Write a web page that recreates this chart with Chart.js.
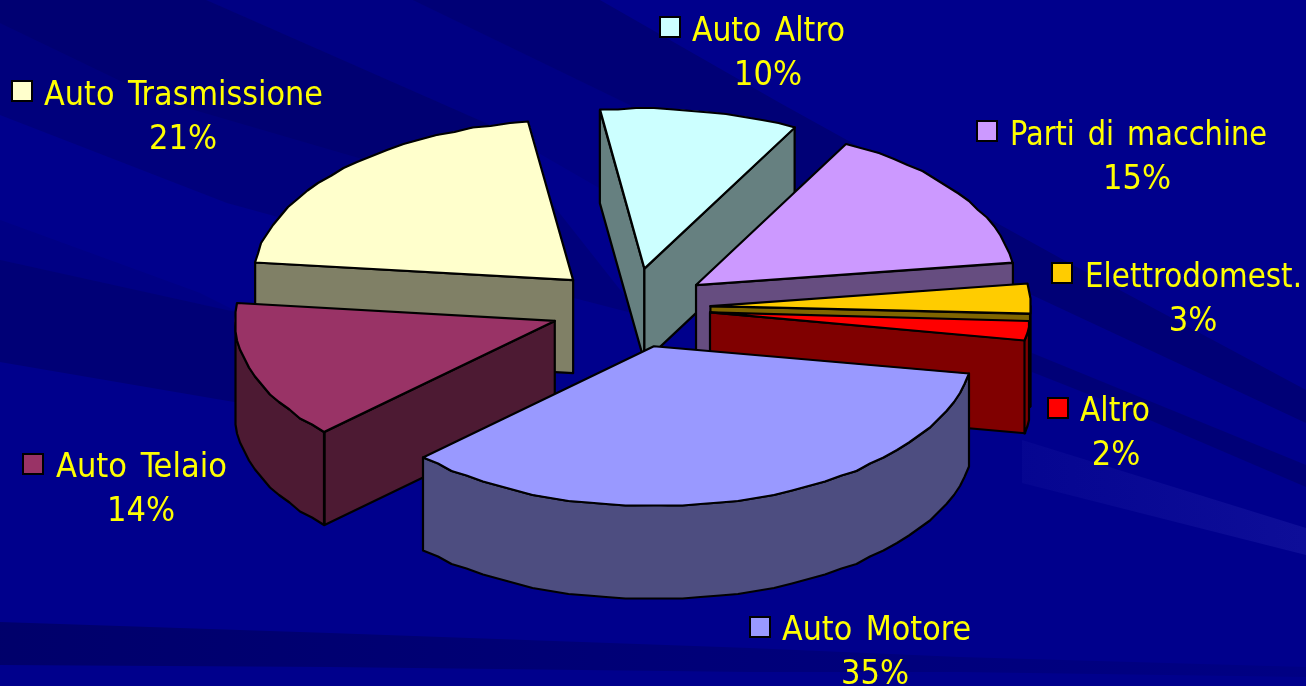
<!DOCTYPE html>
<html><head><meta charset="utf-8">
<style>html,body{margin:0;padding:0;background:#00008c;overflow:hidden}canvas{display:block}</style>
<script src="https://cdn.jsdelivr.net/npm/chart.js@4"></script>
</head><body><canvas id="c" width="1306" height="686"></canvas>
<script>
const categories = ['Auto Motore','Auto Telaio','Auto Trasmissione','Auto Altro','Parti di macchine','Elettrodomest.','Altro'];
const shares = [35,14,21,10,15,3,2];
const topColors = ['#9999ff','#993366','#ffffcc','#ccffff','#cc99ff','#ffcc00','#ff0000'];
const sideColors = ['#4d4d80','#4d1a33','#808066','#668080','#664d80','#806600','#800000'];
// label anchor: [square x, square y, text x, name baseline, percent centre x, percent baseline, text width]
const labelSpots = [
 [750,617,782,640,875,684,189],
 [23,454,56,477,141,521,171],
 [12,81,44,105,183,149,279],
 [660,17,692,41,768,85,153],
 [977,121,1010,145,1137,189,257],
 [1052,263,1085,287,1193,331,217],
 [1048,398,1080,421,1116,465,70]
];
const TILT=0.5, DEPTH=93, EXPLODE=80;
const darkBands=[
 [[[0,0],[206,0],[490,125],[640,315],[570,297],[227,203],[0,115]],.14],
 [[[0,0],[206,0],[490,125],[400,170],[160,100],[0,23]],.1],
 [[[206,0],[413,0],[630,105],[620,200],[490,125]],.08],
 [[[413,0],[600,0],[780,103],[1060,258],[1306,390],[1306,423],[1032,295],[720,340],[630,105]],.2],
 [[[0,260],[240,313],[240,403],[0,362]],.2],
 [[[0,220],[200,293],[240,313],[0,260]],.07],
 [[[1032,353],[1147,400],[1306,465],[1306,487],[1103,400],[1032,372]],.18]
];
const lowBand=[[0,622],[330,633],[750,648],[960,657],[1306,667],[1306,677],[960,672],[750,672],[330,667],[0,665]];
const glowBand=[[1022,440],[1022,483],[1306,555],[1306,528]];
function poly(ctx,pts){ctx.beginPath();pts.forEach((p,i)=>i?ctx.lineTo(p[0],p[1]):ctx.moveTo(p[0],p[1]));ctx.closePath();}
const backdrop={id:'backdrop',beforeDraw(ch){const c=ch.ctx;c.save();c.fillStyle='#00008c';c.fillRect(0,0,1306,686);
 darkBands.forEach(b=>{poly(c,b[0]);c.fillStyle='rgba(0,0,30,'+b[1]+')';c.fill();});
 const d=c.createLinearGradient(0,0,1306,0);d.addColorStop(0,'rgba(0,0,30,.3)');d.addColorStop(1,'rgba(0,0,30,.08)');
 poly(c,lowBand);c.fillStyle=d;c.fill();
 const g=c.createLinearGradient(1022,0,1306,0);g.addColorStop(0,'rgba(70,70,200,.08)');g.addColorStop(1,'rgba(70,70,200,.2)');
 poly(c,glowBand);c.fillStyle=g;c.fill();c.restore();}};
function rim(cx,cy,r,a){return [cx+r*Math.cos(a),cy+r*Math.sin(a)*TILT];}
function rough(p){return [Math.round(p[0]/1.5)*1.5,Math.round(p[1]/1.5)*1.5];}
const pie3d={id:'pie3d',beforeDatasetDraw(ch,args){
 const c=ch.ctx, meta=ch.getDatasetMeta(args.index);
 const order=meta.data.map((a,i)=>{const p=a.getProps(['x','y','startAngle','endAngle','outerRadius'],true);
  const mid=(p.startAngle+p.endAngle)/2;
  return {a,i,p,ox:p.x+EXPLODE*Math.cos(mid),oy:p.y+EXPLODE*Math.sin(mid)*TILT};}).sort((u,v)=>u.oy-v.oy);
 c.save();c.lineJoin='round';c.strokeStyle='#000';c.lineWidth=2.2;
 order.forEach(s=>{const {p,ox,oy,a,i}=s;const r=p.outerRadius;
  const wall=t=>{const e=rim(ox,oy,r,t);poly(c,[[ox,oy],e,[e[0],e[1]+DEPTH],[ox,oy+DEPTH]]);c.fillStyle=sideColors[i];c.fill();c.stroke();};
  if(Math.cos(p.startAngle)<0)wall(p.startAngle);
  if(Math.cos(p.endAngle)>0)wall(p.endAngle);
  const n=Math.max(2,Math.ceil((p.endAngle-p.startAngle)/0.06));
  const arc=[];for(let k=0;k<=n;k++)arc.push(p.startAngle+(p.endAngle-p.startAngle)*k/n);
  const front=arc.filter(t=>Math.sin(t)>=-1e-6).map(t=>rough(rim(ox,oy,r,t)));
  if(front.length>1){poly(c,front.concat(front.slice().reverse().map(q=>[q[0],q[1]+DEPTH])));c.fillStyle=sideColors[i];c.fill();c.stroke();}
  c.save();c.translate(ox,oy);c.scale(1,TILT);c.translate(-p.x,-p.y);a.draw(c);c.restore();
  poly(c,[[ox,oy]].concat(arc.map(t=>rough(rim(ox,oy,r,t)))));c.stroke();
 });
 c.restore();return false;},
 afterDraw(ch){const c=ch.ctx;const tot=shares.reduce((x,y)=>x+y,0);c.save();c.textBaseline='alphabetic';
 categories.forEach((name,i)=>{const s=labelSpots[i];
  c.fillStyle=topColors[i];c.strokeStyle='#000';c.lineWidth=2;c.fillRect(s[0],s[1],20,20);c.strokeRect(s[0],s[1],20,20);
  c.fillStyle='#ffff00';c.font='34px "DejaVu Sans Condensed","DejaVu Sans"';c.wordSpacing='4px';c.textAlign='left';c.fillText(name,s[2],s[3],s[6]);
  c.textAlign='center';c.fillText(Math.round(shares[i]/tot*100)+'%',s[4],s[5]);});
 c.restore();}};
new Chart(document.getElementById('c'),{type:'pie',
 data:{labels:categories,datasets:[{data:shares,backgroundColor:topColors,borderWidth:0,offset:0}]},
 options:{responsive:false,animation:false,rotation:100,radius:320,events:[],
  layout:{padding:{left:0,top:0,right:45,bottom:70}},
  plugins:{legend:{display:false},tooltip:{enabled:false}}},
 plugins:[backdrop,pie3d]});
</script></body></html>
